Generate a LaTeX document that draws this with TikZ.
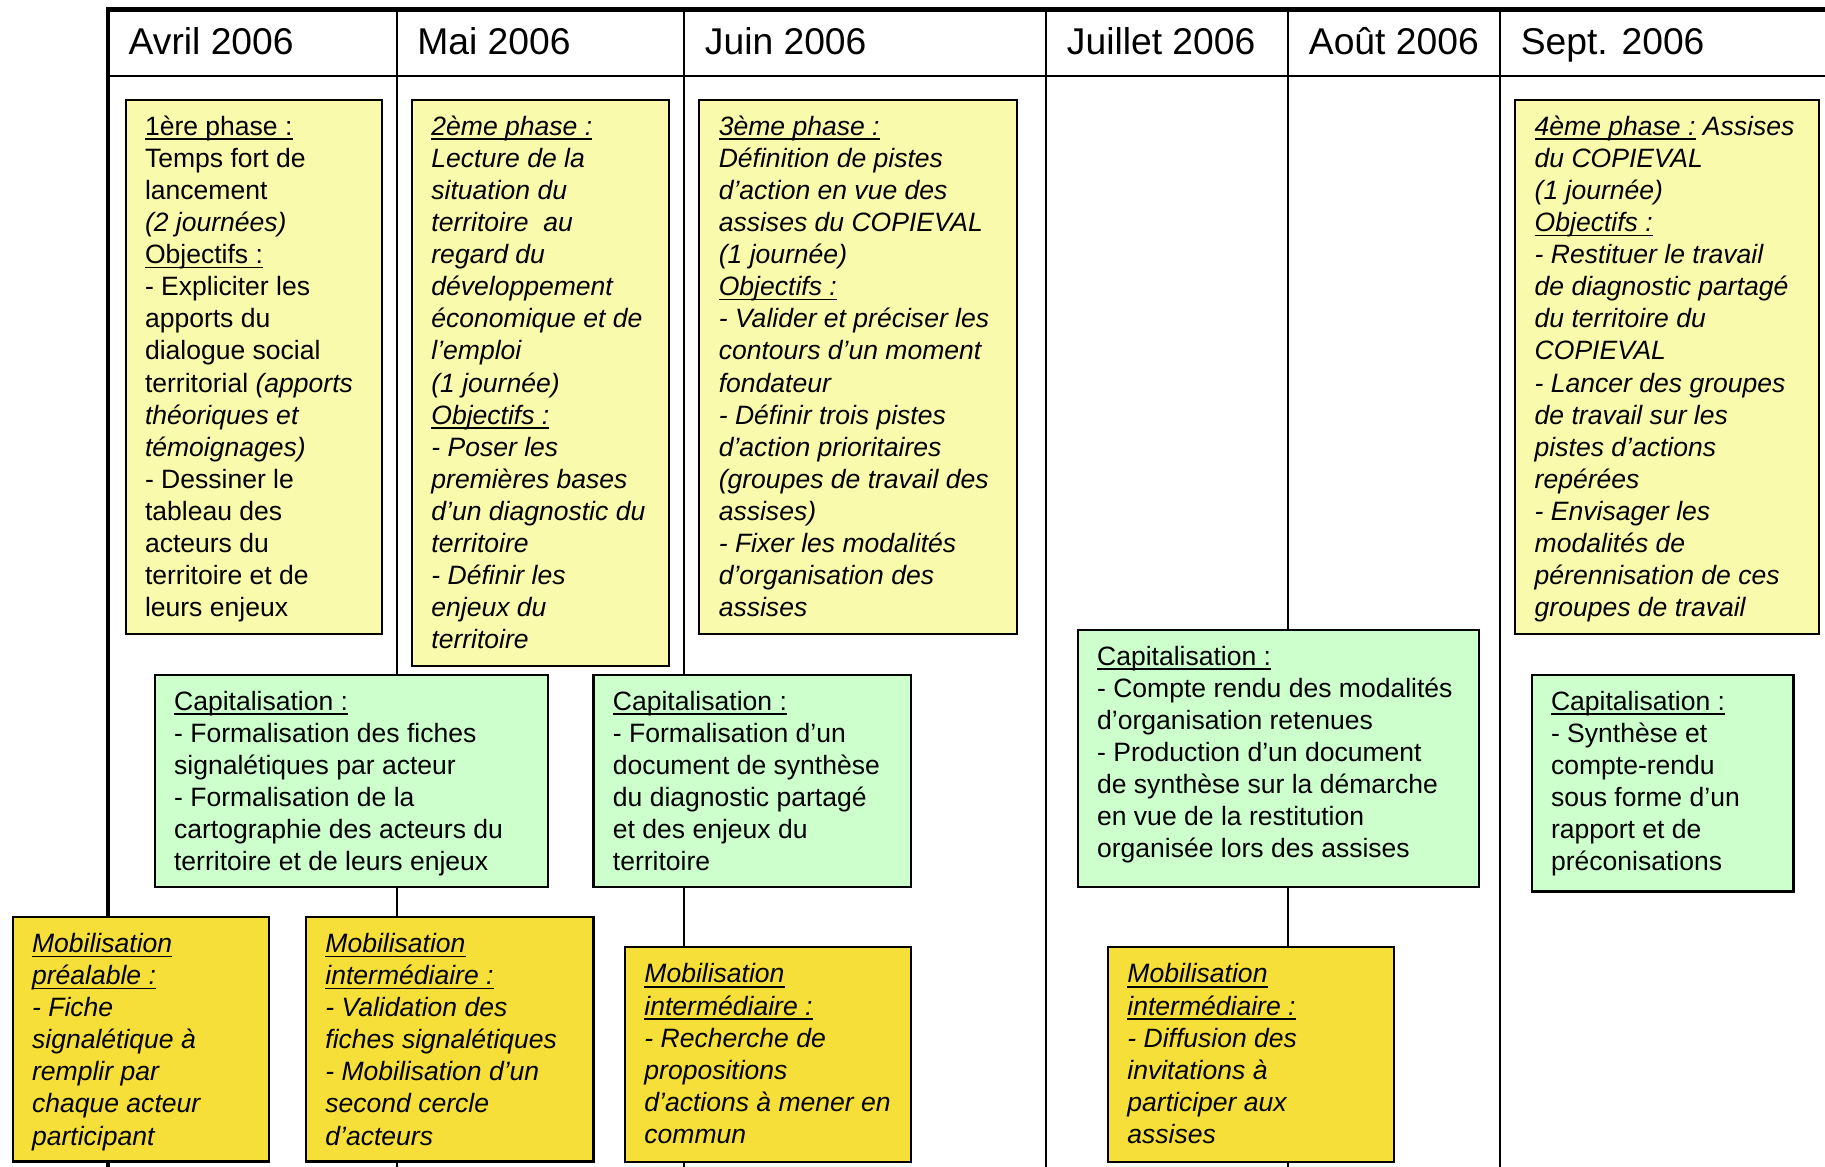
\documentclass[tikz,border=0pt]{standalone}
\usepackage{fontspec}
\setmainfont{Liberation Sans}
\usepackage{tikz}
\usetikzlibrary{positioning}

\definecolor{PhaseYellow}{RGB}{250,250,172}
\definecolor{CapiGreen}{RGB}{204,255,204}
\definecolor{MobiGold}{RGB}{247,223,58}
\newsavebox{\UlBox}
\newcommand{\Ul}[1]{\sbox{\UlBox}{#1}\rlap{\rule[-1.3pt]{\wd\UlBox}{0.5pt}}\usebox{\UlBox}}

\begin{document}
\begin{tikzpicture}[
        Phase/.style={rectangle, draw=black, fill=PhaseYellow, line width=0.6pt, anchor=north west, inner sep=0pt},
        Capi/.style={rectangle, draw=black, fill=CapiGreen, line width=0.6pt, anchor=north west, inner sep=0pt},
        Mobi/.style={rectangle, draw=black, fill=MobiGold, line width=0.6pt, anchor=north west, inner sep=0pt},
        Txt/.style={inner sep=0pt, align=left, font=\fontsize{7.55pt}{9.12pt}\selectfont},
        Month/.style={anchor=base west, inner sep=0pt, font=\fontsize{10.6pt}{12pt}\selectfont},
        Grid/.style={line width=0.55pt}
    ]
    \useasboundingbox (0,0) rectangle (18.25,-11.67);

    % Draw the table frame (months)
    \draw[line width=1.4pt] (1.06,-0.093) -- (18.25,-0.093);
    \draw[line width=1.2pt] (1.082,-0.093) -- (1.082,-11.67);
    \draw[Grid] (1.082,-0.757) -- (18.25,-0.757);
    \foreach \x in {3.969, 6.844, 10.464, 12.884, 15.003}
        \draw[Grid] (\x,-0.093) -- (\x,-11.67);

    % Month headers
    \node (M_AVR) [Month] at (1.28,-0.547) {Avril 2006};
    \node (M_MAI) [Month] at (4.167,-0.547) {Mai 2006};
    \node (M_JUN) [Month] at (7.042,-0.547) {Juin 2006};
    \node (M_JUL) [Month] at (10.662,-0.547) {Juillet 2006};
    \node (M_AOU) [Month] at (13.082,-0.547) {Août 2006};
    \node (M_SEP) [Month] at (15.201,-0.547) {Sept. 2006};

    % Draw the phases
    \node (P1) [Phase, minimum width=2.561cm, minimum height=5.342cm] at (1.245,-0.989) {};
    \node (P1_T) [Txt, below right=0.1355cm and 0.198cm of P1.north west] {\strut\Ul{1ère phase :}\\Temps fort de\\lancement\\\textit{(2 journées)}\\\Ul{Objectifs :}\\- Expliciter les\\apports du\\dialogue social\\territorial \textit{(apports}\\\textit{théoriques et}\\\textit{témoignages)}\\- Dessiner le\\tableau des\\acteurs du\\territoire et de\\leurs enjeux};

    \node (P2) [Phase, minimum width=2.572cm, minimum height=5.657cm] at (4.109,-0.989) {};
    \node (P2_T) [Txt, font=\fontsize{7.55pt}{9.12pt}\selectfont\itshape, below right=0.1355cm and 0.198cm of P2.north west] {\strut\Ul{2ème phase :}\\Lecture de la\\situation du\\territoire~ au\\regard du\\développement\\économique et de\\l’emploi\\(1 journée)\\\Ul{Objectifs :}\\- Poser les\\premières bases\\d’un diagnostic du\\territoire\\- Définir les\\enjeux du\\territoire};

    \node (P3) [Phase, minimum width=3.178cm, minimum height=5.342cm] at (6.983,-0.989) {};
    \node (P3_T) [Txt, font=\fontsize{7.55pt}{9.12pt}\selectfont\itshape, below right=0.1355cm and 0.198cm of P3.north west] {\strut\Ul{3ème phase :}\\Définition de pistes\\d’action en vue des\\assises du COPIEVAL\\(1 journée)\\\Ul{Objectifs :}\\- Valider et préciser les\\contours d’un moment\\fondateur\\- Définir trois pistes\\d’action prioritaires\\(groupes de travail des\\assises)\\- Fixer les modalités\\d’organisation des\\assises};

    \node (P4) [Phase, minimum width=3.038cm, minimum height=5.342cm] at (15.142,-0.989) {};
    \node (P4_T) [Txt, font=\fontsize{7.55pt}{9.12pt}\selectfont\itshape, below right=0.1355cm and 0.198cm of P4.north west] {\strut\Ul{4ème phase :} Assises\\du COPIEVAL\\(1 journée)\\\Ul{Objectifs :}\\- Restituer le travail\\de diagnostic partagé\\du territoire du\\COPIEVAL\\- Lancer des groupes\\de travail sur les\\pistes d’actions\\repérées\\- Envisager les\\modalités de\\pérennisation de ces\\groupes de travail};

    % Draw the capitalisation boxes
    \node (C1) [Capi, minimum width=3.934cm, minimum height=2.118cm] at (1.536,-6.739) {};
    \node (C1_T) [Txt, below right=0.1355cm and 0.198cm of C1.north west] {\strut\Ul{Capitalisation :}\\- Formalisation des fiches\\signalétiques par acteur\\- Formalisation de la\\cartographie des acteurs du\\territoire et de leurs enjeux};

    \node (C2) [Capi, minimum width=3.178cm, minimum height=2.118cm] at (5.924,-6.739) {};
    \node (C2_T) [Txt, below right=0.1355cm and 0.198cm of C2.north west] {\strut\Ul{Capitalisation :}\\- Formalisation d’un\\document de synthèse\\du diagnostic partagé\\et des enjeux du\\territoire};

    \node (C3) [Capi, minimum width=4.016cm, minimum height=2.572cm] at (10.766,-6.285) {};
    \node (C3_T) [Txt, below right=0.1355cm and 0.198cm of C3.north west] {\strut\Ul{Capitalisation :}\\- Compte rendu des modalités\\d’organisation retenues\\- Production d’un document\\de synthèse sur la démarche\\en vue de la restitution\\organisée lors des assises};

    \node (C4) [Capi, minimum width=2.619cm, minimum height=2.165cm] at (15.305,-6.739) {};
    \node (C4_T) [Txt, below right=0.1355cm and 0.198cm of C4.north west] {\strut\Ul{Capitalisation :}\\- Synthèse et\\compte-rendu\\sous forme d’un\\rapport et de\\préconisations};

    % Draw the mobilisation boxes
    \node (M1) [Mobi, minimum width=2.561cm, minimum height=2.444cm] at (0.116,-9.160) {};
    \node (M1_T) [Txt, font=\fontsize{7.55pt}{9.12pt}\selectfont\itshape, below right=0.1355cm and 0.198cm of M1.north west] {\strut\Ul{Mobilisation}\\\Ul{préalable :}\\- Fiche\\signalétique à\\remplir par\\chaque acteur\\participant};

    \node (M2) [Mobi, minimum width=2.875cm, minimum height=2.444cm] at (3.049,-9.160) {};
    \node (M2_T) [Txt, font=\fontsize{7.55pt}{9.12pt}\selectfont\itshape, below right=0.1355cm and 0.198cm of M2.north west] {\strut\Ul{Mobilisation}\\\Ul{intermédiaire :}\\- Validation des\\fiches signalétiques\\- Mobilisation d’un\\second cercle\\d’acteurs};

    \node (M3) [Mobi, minimum width=2.863cm, minimum height=2.142cm] at (6.239,-9.463) {};
    \node (M3_T) [Txt, font=\fontsize{7.55pt}{9.12pt}\selectfont\itshape, below right=0.1355cm and 0.198cm of M3.north west] {\strut\Ul{Mobilisation}\\\Ul{intermédiaire :}\\- Recherche de\\propositions\\d’actions à mener en\\commun};

    \node (M4) [Mobi, minimum width=2.863cm, minimum height=2.142cm] at (11.069,-9.463) {};
    \node (M4_T) [Txt, font=\fontsize{7.55pt}{9.12pt}\selectfont\itshape, below right=0.1355cm and 0.198cm of M4.north west] {\strut\Ul{Mobilisation}\\\Ul{intermédiaire :}\\- Diffusion des\\invitations à\\participer aux\\assises};

\end{tikzpicture}
\end{document}
